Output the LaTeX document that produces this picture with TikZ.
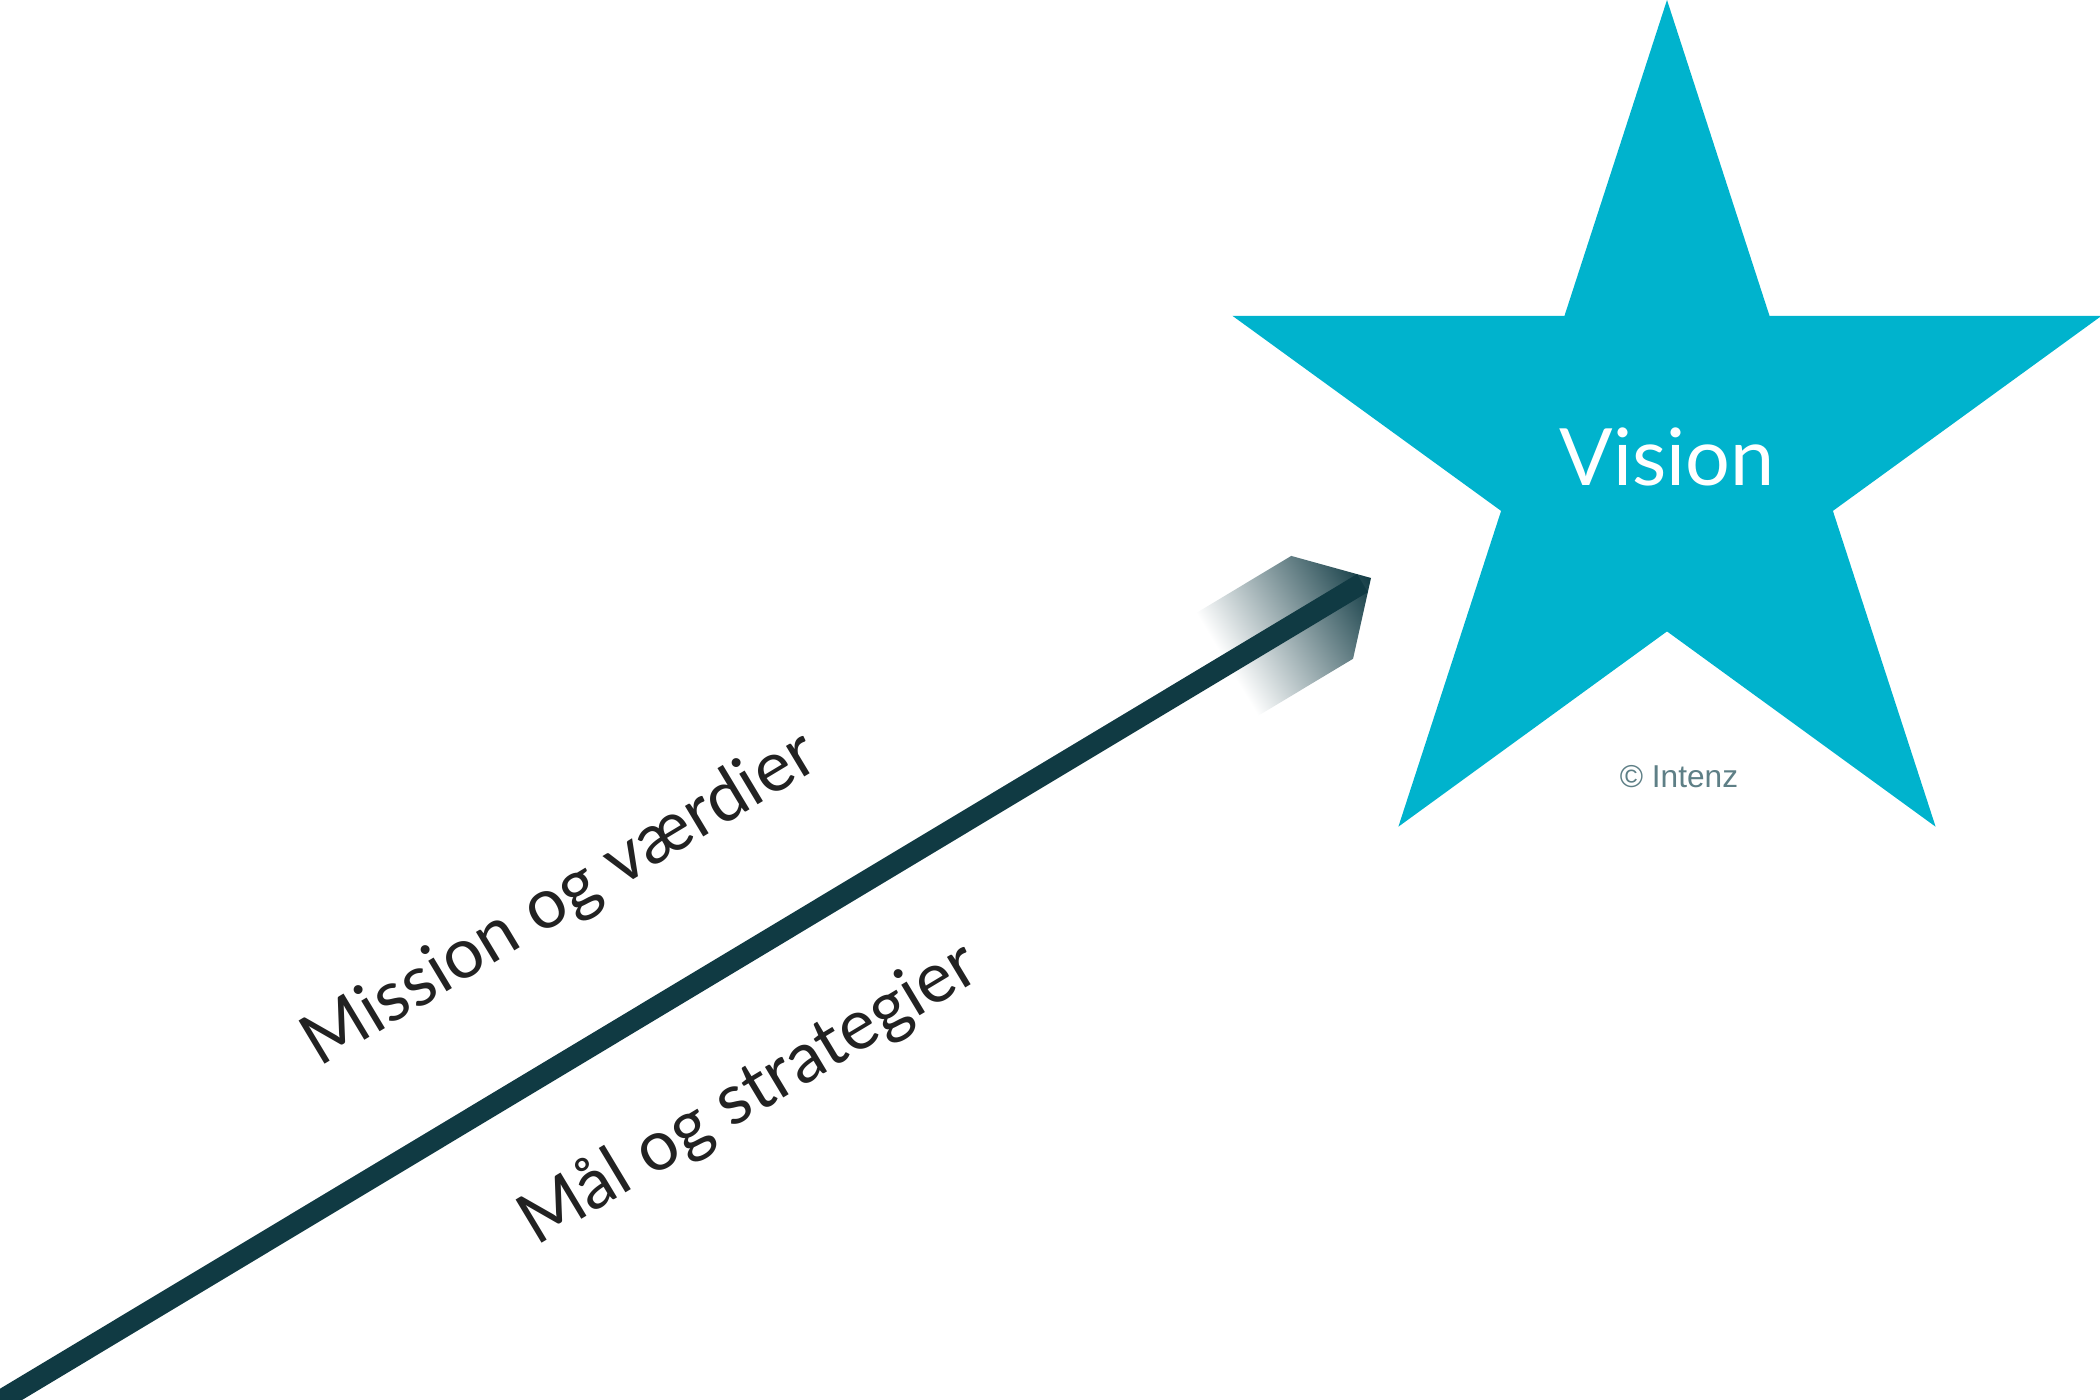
\documentclass[tikz,border=0pt]{standalone}
\usepackage{fontspec}
\setmainfont{Lato}
\newfontfamily\intenzfont{Liberation Sans}
\usetikzlibrary{shapes.geometric}
\definecolor{visioncyan}{HTML}{00B3CD}
\definecolor{shaftdark}{HTML}{103A43}
\definecolor{labelgray}{HTML}{222222}
\definecolor{credgray}{HTML}{5E7F86}

\begin{document}
\begin{tikzpicture}[
  visionstar/.style={star, star points=5, star point ratio=2.62, minimum size=9.14cm, inner sep=0pt, fill=visioncyan, draw=none, text=white, font=\fontsize{22.5}{27}\selectfont},
  pathlabel/.style={anchor=base, rotate=31, text=labelgray, font=\fontsize{20}{24}\selectfont},
  shaft/.style={line width=0.21cm, draw=shaftdark, shorten >=0.1cm}]
  \useasboundingbox (0,0) rectangle (21,14);
  \node[visionstar] (vision) at (16.67,9.43) {Vision};
  \node[anchor=base, text=credgray, font=\intenzfont\fontsize{9}{11}\selectfont] (credit) at (16.79,6.12) {© Intenz};
  \coordinate (tail) at (-0.3,-0.19);
  \coordinate (tip) at (13.71,8.22);
  \begin{scope}[transform canvas={shift={(tip)}, rotate=31}]
    \shade[left color=white, middle color=shaftdark!65, right color=shaftdark] (0,0) -- (-0.57,0.6) -- (-1.68,0.6) -- (-1.68,-0.6) -- (-0.57,-0.6) -- cycle;
  \end{scope}
  \draw[shaft] (tail) -- (tip);
  \node[pathlabel] (mission) at (5.71,4.83) {Mission og værdier};
  \node[pathlabel] (goals) at (7.60,2.88) {Mål og strategier};
\end{tikzpicture}
\end{document}
